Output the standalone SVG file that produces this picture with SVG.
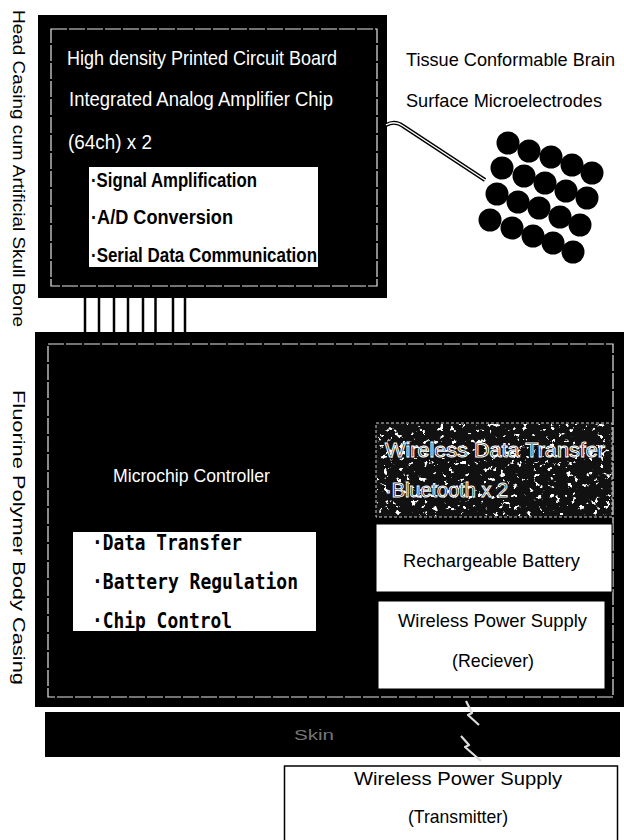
<svg xmlns="http://www.w3.org/2000/svg" width="624" height="840" viewBox="0 0 624 840">
<style>
.sans{font-family:"Liberation Sans",Arial,sans-serif;}
.mono{font-family:"DejaVu Sans Mono","Liberation Mono",monospace;font-weight:bold;}
.wt{fill:#fff;}
.bk{fill:#000;}
.box{fill:#000;}
.inner{fill:none;stroke:#e6e6e6;stroke-width:1.2;stroke-dasharray:16 2;}
.wbox{fill:#fff;stroke:#000;stroke-width:1;}
.dot{fill:#000;}
</style>
<defs>
<filter id="speckle" x="0" y="0" width="100%" height="100%">
<feTurbulence type="fractalNoise" baseFrequency="0.18" numOctaves="4" seed="11" result="n"/>
<feColorMatrix in="n" type="matrix" values="0 0 0 0 1  0 0 0 0 1  0 0 0 0 1  16 0 0 0 -10.4"/>
</filter>
</defs>
<rect width="624" height="840" fill="#fff"/>

<g id="side-labels">
<text class="sans bk" font-size="17" transform="translate(13,10) rotate(90)" textLength="317" lengthAdjust="spacingAndGlyphs">Head Casing cum Artificial Skull Bone</text>
<text class="sans bk" font-size="17" transform="translate(13,390) rotate(90)" textLength="295" lengthAdjust="spacingAndGlyphs">Fluorine Polymer Body Casing</text>
</g>

<g id="head-casing">
<rect class="box" x="38" y="15" width="349" height="283"/>
<rect class="inner" x="51" y="29" width="326" height="257"/>
<text class="sans wt" font-size="21" x="67" y="65" textLength="270" lengthAdjust="spacingAndGlyphs">High density Printed Circuit Board</text>
<text class="sans wt" font-size="21" x="69" y="106" textLength="264" lengthAdjust="spacingAndGlyphs">Integrated Analog Amplifier Chip</text>
<text class="sans wt" font-size="21" x="68" y="149" textLength="84" lengthAdjust="spacingAndGlyphs">(64ch) x 2</text>
</g>

<g id="amp-functions">
<rect x="89" y="167" width="229" height="100" fill="#fff"/>
<text class="sans bk" font-size="20" font-weight="bold" x="91" y="187" textLength="166" lengthAdjust="spacingAndGlyphs">·Signal Amplification</text>
<text class="sans bk" font-size="20" font-weight="bold" x="91" y="224" textLength="142" lengthAdjust="spacingAndGlyphs">·A/D Conversion</text>
<text class="sans bk" font-size="20" font-weight="bold" x="91" y="262" textLength="226" lengthAdjust="spacingAndGlyphs">·Serial Data Communication</text>
</g>

<g id="electrodes">
<text class="sans bk" font-size="19" x="406" y="66" textLength="209" lengthAdjust="spacingAndGlyphs">Tissue Conformable Brain</text>
<text class="sans bk" font-size="19" x="406" y="107" textLength="196" lengthAdjust="spacingAndGlyphs">Surface Microelectrodes</text>
<g class="dot">
<circle cx="508" cy="143" r="11.5"/><circle cx="529" cy="151" r="11.5"/><circle cx="551" cy="157" r="11.5"/><circle cx="572" cy="165" r="11.5"/><circle cx="592" cy="173" r="11.5"/>
<circle cx="502" cy="168" r="11.5"/><circle cx="524" cy="176" r="11.5"/><circle cx="545" cy="183" r="11.5"/><circle cx="566" cy="191" r="11.5"/><circle cx="587" cy="198" r="11.5"/>
<circle cx="497" cy="194" r="11.5"/><circle cx="518" cy="202" r="11.5"/><circle cx="539" cy="208" r="11.5"/><circle cx="560" cy="217" r="11.5"/><circle cx="580" cy="225" r="11.5"/>
<circle cx="490" cy="220" r="11.5"/><circle cx="512" cy="228" r="11.5"/><circle cx="533" cy="236" r="11.5"/><circle cx="553" cy="243" r="11.5"/><circle cx="573" cy="252" r="11.5"/>
</g>
</g>

<g id="body-casing">
<rect class="box" x="35" y="332" width="589" height="375"/>
<rect class="inner" x="48" y="344" width="565" height="353"/>
<text class="sans wt" font-size="19" x="113" y="482" textLength="157" lengthAdjust="spacingAndGlyphs">Microchip Controller</text>
</g>

<g id="controller-functions">
<rect x="73" y="532" width="243" height="99" fill="#fff"/>
<text class="mono bk" font-size="21" x="92" y="550" textLength="150" lengthAdjust="spacingAndGlyphs">·Data Transfer</text>
<text class="mono bk" font-size="21" x="92" y="589" textLength="206" lengthAdjust="spacingAndGlyphs">·Battery Regulation</text>
<text class="mono bk" font-size="21" x="92" y="628" textLength="140" lengthAdjust="spacingAndGlyphs">·Chip Control</text>
</g>

<g id="wireless-data">
<rect x="376" y="423" width="236" height="94" fill="#111" stroke="#ccc" stroke-width="1" stroke-dasharray="3 2"/>
<rect x="377" y="424" width="234" height="92" fill="#000" filter="url(#speckle)"/>
<text class="sans" font-size="21" fill="#000" stroke="#fff" stroke-width="1" x="385" y="457" textLength="220" lengthAdjust="spacingAndGlyphs">Wireless Data Transfer</text>
<text class="sans" font-size="21" fill="#000" stroke="#fff" stroke-width="1" x="385" y="497" textLength="123" lengthAdjust="spacingAndGlyphs">·Bluetooth x 2</text>
</g>

<g id="battery">
<rect class="wbox" x="376" y="524" width="236" height="68"/>
<text class="sans bk" font-size="19" x="403" y="567" textLength="177" lengthAdjust="spacingAndGlyphs">Rechargeable Battery</text>
</g>

<g id="receiver">
<rect class="wbox" x="378" y="601" width="227" height="88"/>
<text class="sans bk" font-size="19" x="398" y="627" textLength="189" lengthAdjust="spacingAndGlyphs">Wireless Power Supply</text>
<text class="sans bk" font-size="19" x="452" y="667" textLength="82" lengthAdjust="spacingAndGlyphs">(Reciever)</text>
</g>

<g id="skin">
<rect x="45" y="712" width="575" height="45" fill="#000"/>
<text class="sans" font-size="14" fill="#777" x="294" y="740" textLength="40" lengthAdjust="spacingAndGlyphs">Skin</text>
</g>

<g id="transmitter">
<rect x="284.5" y="766" width="333" height="80" fill="#fff" stroke="#000" stroke-width="1.5"/>
<text class="sans bk" font-size="19" x="354" y="785" textLength="208" lengthAdjust="spacingAndGlyphs">Wireless Power Supply</text>
<text class="sans bk" font-size="19" x="408" y="823" textLength="100" lengthAdjust="spacingAndGlyphs">(Transmitter)</text>
</g>

<g id="connectors">
<g stroke="#000" stroke-width="2.5">
<line x1="85" y1="298" x2="85" y2="332"/>
<line x1="99" y1="298" x2="99" y2="332"/>
<line x1="114" y1="298" x2="114" y2="332"/>
<line x1="128" y1="298" x2="128" y2="332"/>
<line x1="143" y1="298" x2="143" y2="332"/>
<line x1="155.5" y1="298" x2="155.5" y2="332"/>
<line x1="173" y1="298" x2="173" y2="332"/>
<line x1="185" y1="298" x2="185" y2="332"/>
</g>
<path d="M386,125 Q395,120 403,126 L485,180" fill="none" stroke="#000" stroke-width="4"/>
<path d="M386,125 Q395,120 403,126 L485,180" fill="none" stroke="#fff" stroke-width="1.4"/>
<g fill="none" stroke="#ddd" stroke-width="2.2" stroke-linejoin="round">
<polyline points="466,701 472,713 468,715 479,725"/>
<polyline points="461,736 469,745 465,747 481,761"/>
</g>
</g>
</svg>
